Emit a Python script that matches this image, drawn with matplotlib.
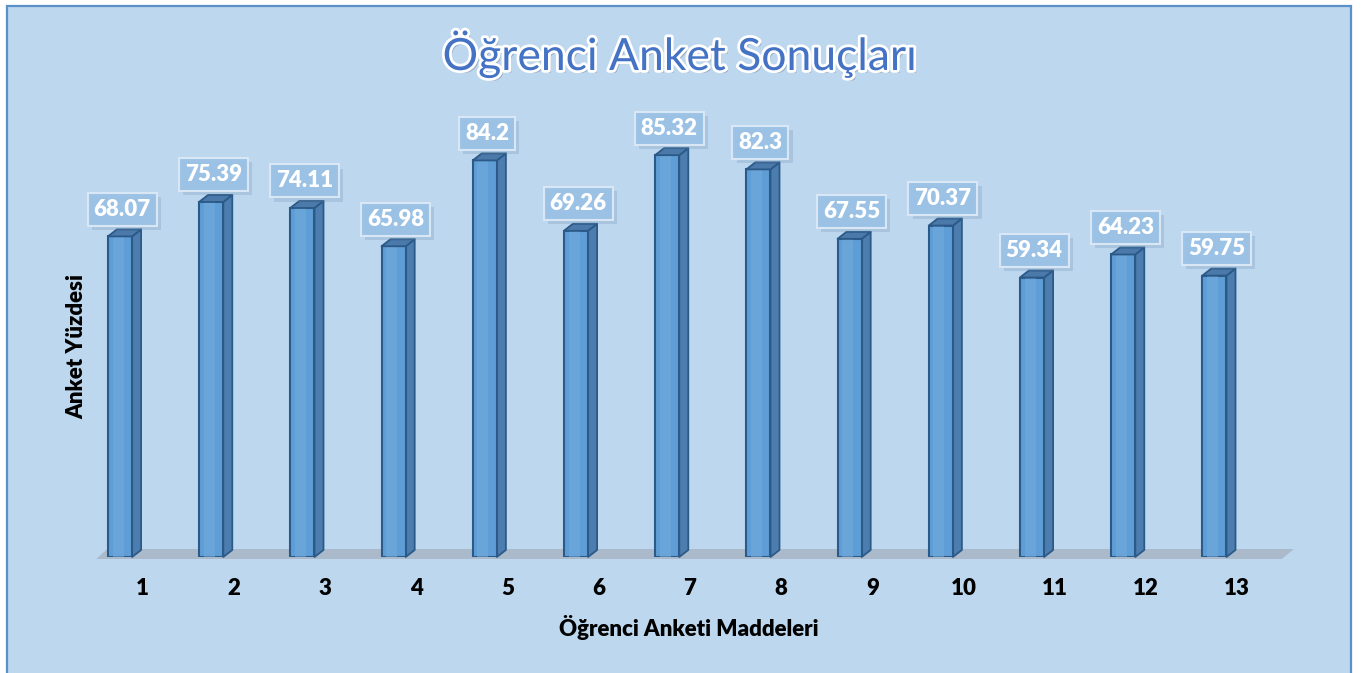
import numpy as np
import matplotlib
matplotlib.use('Agg')
import matplotlib.pyplot as plt
import matplotlib.patches as mpatches
import matplotlib.patheffects as pe
from matplotlib.transforms import IdentityTransform

plt.rcParams['font.family'] = ['Lato', 'DejaVu Sans']

# ── data ──────────────────────────────────────────────────────────────────────
items  = ['1', '2', '3', '4', '5', '6', '7', '8', '9', '10', '11', '12', '13']
values = [68.07, 75.39, 74.11, 65.98, 84.2, 69.26, 85.32, 82.3, 67.55, 70.37,
          59.34, 64.23, 59.75]

TITLE  = 'Öğrenci Anket Sonuçları'
XLABEL = 'Öğrenci Anketi Maddeleri'
YLABEL = 'Anket Yüzdesi'

# ── style ─────────────────────────────────────────────────────────────────────
BG      = '#BDD7EE'
FRAME   = '#5B8FC8'
FRONT   = '#5F9DD6'
EDGE    = '#2C5A88'
SIDE    = '#4C7DAE'
TOP     = '#4A79AA'
FLOOR   = '#AABACB'
DX, DY  = 9, 7          # depth of the 3D bars [px]
BAR_W   = 0.265

W, H = 1367, 673
fig = plt.figure(figsize=(W / 100, H / 100), dpi=100, facecolor='white')

# chart area with thin blue frame
fig.add_artist(mpatches.Rectangle((7 / W, -0.01), (1351 - 7) / W, (673 - 6) / H + 0.01,
                                  transform=fig.transFigure, fc=BG, ec=FRAME,
                                  lw=1.6, zorder=0))

# axes: bar 1 centre at 120 px, pitch 91.2 px, zero line at y=557 px
x0_px, pitch, zero_px, unit = 120, 91.2, 557, 4.71
ax = fig.add_axes([(x0_px - 0.6 * pitch) / W, (H - zero_px) / H,
                   13.2 * pitch / W, 100 * unit / H])
ax.set_xlim(-0.6, 12.6)
ax.set_ylim(0, 100)
ax.patch.set_visible(False)
for s in ax.spines.values():
    s.set_visible(False)
ax.set_yticks([])

x = np.arange(len(values))

# floor
fig.canvas.draw()
T = ax.transData
(fl, fy), = T.transform([(x[0] - 0.26, 0)])
(fr, _), = T.transform([(x[-1] + 0.74, 0)])
floor = mpatches.Polygon([(fl, fy - 2), (fr, fy - 2), (fr + 12, fy + 8), (fl + 11, fy + 8)],
                         closed=True, fc=FLOOR, ec='none', transform=IdentityTransform(),
                         clip_on=False, zorder=1)
ax.add_patch(floor)

# front faces
ax.bar(x, values, width=BAR_W, color=FRONT, edgecolor=EDGE, lw=1.5, zorder=3)
# lighter inner stripe
ax.bar(x - BAR_W * 0.08, values, width=BAR_W * 0.45, color='#74ACDF', lw=0,
       alpha=0.55, zorder=3.5)

# top and side faces
for xi, v in zip(x, values):
    (xl, yt), (xr, _), (_, yb) = T.transform([(xi - BAR_W / 2, v), (xi + BAR_W / 2, v),
                                              (xi, 0)])
    top = mpatches.Polygon([(xl, yt), (xr, yt), (xr + DX, yt + DY), (xl + DX, yt + DY)],
                           closed=True, fc=TOP, ec=EDGE, lw=1.3, joinstyle='round',
                           transform=IdentityTransform(), clip_on=False, zorder=4)
    side = mpatches.Polygon([(xr, yb), (xr, yt), (xr + DX, yt + DY), (xr + DX, yb + DY)],
                            closed=True, fc=SIDE, ec=EDGE, lw=1.3, joinstyle='round',
                            transform=IdentityTransform(), clip_on=False, zorder=2.5)
    ax.add_patch(side)
    ax.add_patch(top)

# data labels
for xi, v in zip(x, values):
    ann = ax.annotate(f'{v:g}', xy=(xi, v), xytext=(1.5, 19.5), textcoords='offset points',
                      ha='center', va='center', fontsize=16, fontweight='heavy',
                      color='white',
                      bbox=dict(boxstyle='square,pad=0.27', fc='#9BC2E6', ec='#DCE9F6',
                                lw=1.5, alpha=0.95),
                      zorder=6, annotation_clip=False)
    ann.get_bbox_patch().set_path_effects(
        [pe.SimplePatchShadow(offset=(3, -3), shadow_rgbFace='#6F8FB0', alpha=0.25),
         pe.Normal()])

# category labels (shifted right like the 3D projection)
ax.set_xticks(x + 0.25, items)
ax.tick_params(axis='x', length=0, pad=15, labelsize=16)
for t in ax.get_xticklabels():
    t.set_fontweight('heavy')

# title + axis titles
fig.text(680 / W, 1 - 70 / H, TITLE, ha='center', va='baseline', fontsize=32,
         color='#4472C4',
         path_effects=[pe.SimplePatchShadow(offset=(2, -2), shadow_rgbFace='#7F8FA6', alpha=0.6),
                       pe.Stroke(linewidth=4, foreground='white'), pe.Normal()])
fig.text(689 / W, 1 - 627 / H, XLABEL, ha='center', va='center', fontsize=16,
         fontweight='heavy', color='black')
fig.text(77 / W, 1 - 347 / H, YLABEL, ha='center', va='center', rotation=90,
         fontsize=16, fontweight='heavy', color='black')

fig.savefig('out.png', dpi=100, facecolor='white')
plt.close(fig)
